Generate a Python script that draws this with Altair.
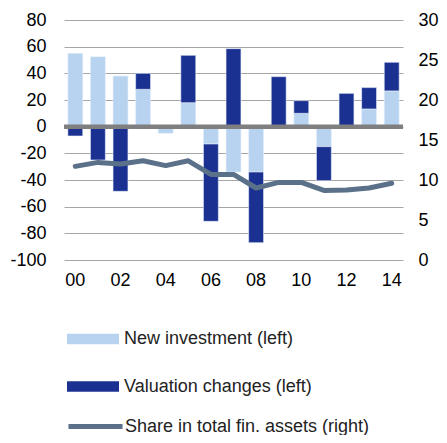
import altair as alt
import pandas as pd

years = ["00", "01", "02", "03", "04", "05", "06", "07", "08", "09", "10", "11", "12", "13", "14"]
new_investment = [55, 52.5, 38, 28, -5, 18, -13, -34, -34, 0, 10, -15, 0, 13.3, 26.8]
valuation = [-7, -25, -48.5, 12, 0.5, 35.5, -58, 58.5, -53, 37.5, 9.5, -25.5, 25, 16, 21.5]
share = [11.7, 12.2, 12.0, 12.4, 11.8, 12.4, 10.7, 10.7, 9.0, 9.7, 9.7, 8.7, 8.75, 9.0, 9.6]

bar_names = ["New investment (left)", "Valuation changes (left)"]
bar_colors = ["#B7D3F0", "#1B3192"]
line_name = "Share in total fin. assets (right)"
line_color = "#5B7189"

bars_df = pd.DataFrame(
    [{"year": y, "value": v, "series": bar_names[0], "ord": 0} for y, v in zip(years, new_investment)]
    + [{"year": y, "value": v, "series": bar_names[1], "ord": 1} for y, v in zip(years, valuation)]
)
line_df = pd.DataFrame({"year": years, "share": share, "series": line_name})

font = "Liberation Sans"

x_enc = alt.X(
    "year:N",
    sort=years,
    scale=alt.Scale(paddingInner=0.34, paddingOuter=0.17),
    axis=alt.Axis(
        title=None, values=years[::2], labelAngle=0, ticks=False, domain=False,
        labelPadding=11, labelFontSize=18, labelFont=font, labelColor="#000000", grid=False,
    ),
)

left_scale = alt.Scale(domain=[-100, 80], nice=False, zero=False)
left_axis = alt.Axis(
    title=None, values=list(range(-100, 81, 20)), ticks=False, domain=False,
    labelPadding=18, labelFontSize=18, labelFont=font, labelColor="#000000",
    labelOverlap=False, labelExpr="'' + datum.value",
    grid=True, gridColor="#A6A6A6", gridWidth=1,
)

bars = alt.Chart(bars_df).mark_bar(stroke="#E8F0FA", strokeWidth=0.6).encode(
    x=x_enc,
    y=alt.Y("value:Q", stack="zero", scale=left_scale, axis=left_axis),
    color=alt.Color(
        "series:N",
        scale=alt.Scale(domain=bar_names, range=bar_colors),
        legend=alt.Legend(
            title=None, orient="none", legendX=3, legendY=293, direction="vertical",
            symbolType="M-1,-0.2H1V0.2H-1Z", symbolSize=2704, symbolStrokeWidth=0,
            labelFontSize=18, labelFont=font, labelColor="#222222", labelOffset=5,
            rowPadding=12.5, labelLimit=400,
        ),
    ),
    order=alt.Order("ord:Q", sort="ascending"),
)

zero = alt.Chart(bars_df).mark_rule(color="#7F7F7F", strokeWidth=4.5).encode(
    y=alt.Y("zv:Q", scale=left_scale, axis=left_axis),
).transform_aggregate(cnt="count()").transform_calculate(zv="0")

line = alt.Chart(line_df).mark_line(strokeWidth=5, strokeCap="round", strokeJoin="round").encode(
    x=x_enc,
    y=alt.Y(
        "share:Q",
        scale=alt.Scale(domain=[0, 30], nice=False),
        axis=alt.Axis(
            title=None, orient="right", values=list(range(0, 31, 5)), ticks=False, domain=False,
            labelPadding=15, labelFontSize=18, labelFont=font, labelColor="#000000",
            labelOverlap=False, grid=False,
        ),
    ),
    stroke=alt.Stroke(
        "series:N",
        scale=alt.Scale(domain=[line_name], range=[line_color]),
        legend=alt.Legend(
            title=None, orient="none", legendX=3, legendY=378, direction="vertical",
            symbolType="M-1.04,0H1.04", symbolSize=2704, symbolStrokeWidth=5,
            labelFontSize=18, labelFont=font, labelColor="#222222", labelOffset=1,
            labelLimit=400,
        ),
    ),
)

chart = alt.layer(alt.layer(bars, zero), line).resolve_scale(y="independent").properties(
    width=339,
    height=240,
    autosize=alt.AutoSizeParams(type="none"),
    padding={"left": 56, "top": 12, "right": 36, "bottom": 175},
).configure_view(stroke=None)

chart.save("out.html", embed_options={"renderer": "svg", "actions": False})
